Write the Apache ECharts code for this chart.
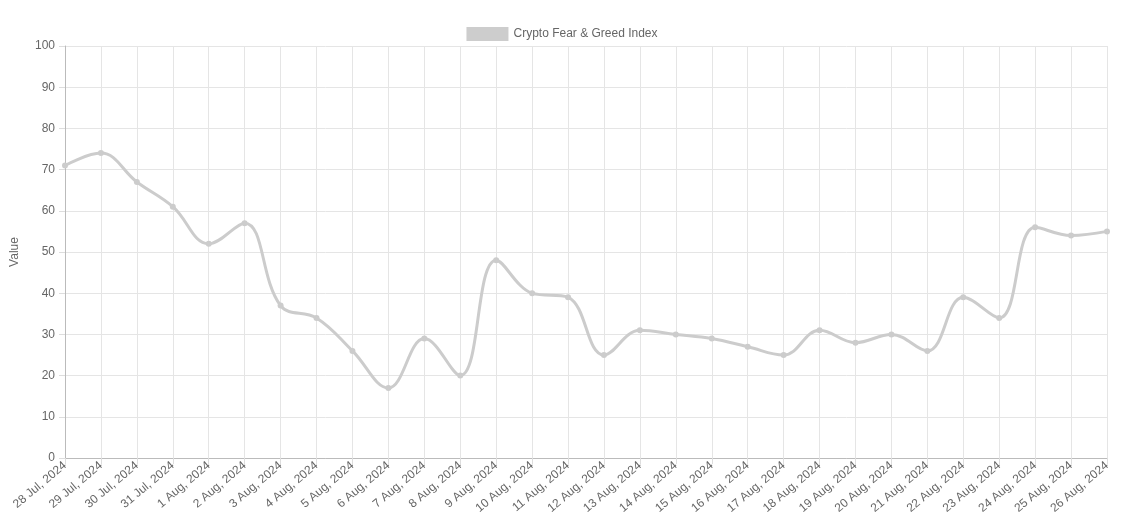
<!DOCTYPE html>
<html><head><meta charset="utf-8">
<script src="https://cdn.jsdelivr.net/npm/echarts@6/dist/echarts.min.js"></script>
<style>html,body{margin:0;padding:0;background:#fff}#c{width:1124px;height:527px}</style>
</head><body><div id="c"></div>
<script>
const categories = ["28 Jul, 2024","29 Jul, 2024","30 Jul, 2024","31 Jul, 2024","1 Aug, 2024","2 Aug, 2024","3 Aug, 2024","4 Aug, 2024","5 Aug, 2024","6 Aug, 2024","7 Aug, 2024","8 Aug, 2024","9 Aug, 2024","10 Aug, 2024","11 Aug, 2024","12 Aug, 2024","13 Aug, 2024","14 Aug, 2024","15 Aug, 2024","16 Aug, 2024","17 Aug, 2024","18 Aug, 2024","19 Aug, 2024","20 Aug, 2024","21 Aug, 2024","22 Aug, 2024","23 Aug, 2024","24 Aug, 2024","25 Aug, 2024","26 Aug, 2024"];
const values = [71,74,67,61,52,57,37,34,26,17,29,20,48,40,39,25,31,30,29,27,25,31,28,30,26,39,34,56,54,55];
const seriesName = "Crypto Fear & Greed Index";
const chart = echarts.init(document.getElementById('c'));
const txt = {color:'#666', fontFamily:'Liberation Sans, Arial', fontSize:12};
chart.setOption({
  animation:false,
  legend:{top:22,left:'center',itemWidth:42,itemHeight:14,icon:'rect',textStyle:txt,
    data:[{name:seriesName,itemStyle:{color:'rgba(200,200,200,0.9)'}}]},
  grid:{left:65,right:17,top:46,bottom:69},
  xAxis:{type:'category',data:categories,boundaryGap:false,
    axisLine:{lineStyle:{color:'#bbb'}},axisTick:{show:true,length:6,lineStyle:{color:'#ddd'}},
    splitLine:{show:true,lineStyle:{color:'#e5e5e5'}},
    axisLabel:Object.assign({rotate:40,interval:0,margin:6},txt)},
  yAxis:{type:'value',min:0,max:100,interval:10,name:'Value',nameLocation:'middle',nameGap:44,
    nameTextStyle:txt,axisLine:{show:true,lineStyle:{color:'#bbb'}},axisTick:{show:true,length:6,lineStyle:{color:'#ddd'}},
    splitLine:{lineStyle:{color:'#e5e5e5'}},axisLabel:Object.assign({margin:10},txt)},
  series:[{name:seriesName,type:'line',data:values,smooth:0.4,symbol:'circle',symbolSize:6,
    lineStyle:{color:'rgb(204,204,204)',width:3},itemStyle:{color:'rgb(204,204,204)'}}]
});
</script></body></html>
